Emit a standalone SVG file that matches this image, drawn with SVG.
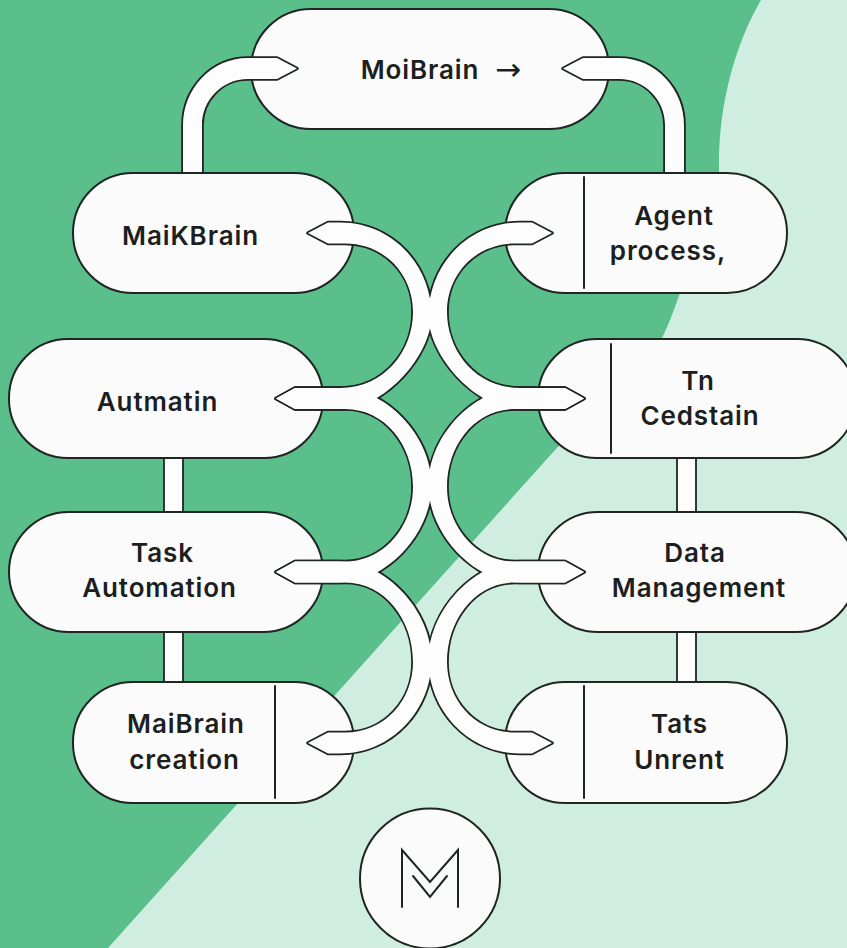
<svg xmlns="http://www.w3.org/2000/svg" width="847" height="948" viewBox="0 0 847 948">
<style>
.nd{fill:#fbfbfb;stroke:#1f2522;stroke-width:2}
.dv{stroke:#1f2522;stroke-width:2;fill:none;stroke-linecap:round}
text{font-family:"Inter","Liberation Sans",sans-serif;font-size:26px;font-weight:600;fill:#1c1f1e;text-anchor:middle;letter-spacing:.9px}
.o{fill:#fdfdfd;stroke:#1f2522;stroke-width:3.6;stroke-linejoin:round}
.w{fill:#fdfdfd;stroke:none}
.v{fill:#fdfdfd;stroke:#1f2522;stroke-width:1.8}
</style>
<defs>
<path id="c1" d="M308,233L328,222.5H340C392,222.5 431.5,265 431.5,315.5C431.5,355 385,409 340,409H295L276,398.5L295,388H340C385,388 413,350 413,312C413,275 385,243.5 345,243.5H328Z"/>
<path id="c2" d="M276,398.5L295,388H340C385,388 431.5,435 431.5,485C431.5,535 385,582.5 340,582.5H295L276,572L295,561.5H345C385,561.5 413,525 413,487C413,445 385,409 345,409H295Z"/>
<path id="c3" d="M276,572L295,561.5H340C385,561.5 431.5,610 431.5,660C431.5,710 392,753.5 340,753.5H328L308,743L328,732.5H345C385,732.5 413,700 413,662C413,620 385,582.5 345,582.5H295Z"/>
<path id="t1" d="M183,172V125C183,90 210,58 248,58H277L297,68.5L277,79H248C222,79 202,100 202,125V172Z"/>
<path id="t2" d="M684,172V125C684,90 657,58 619,58H583L563,68.5L583,79H619C645,79 665,100 665,125V172Z"/>
</defs>
<rect width="847" height="948" fill="#5abf8b"/>
<path d="M761,0 C735,45 718,105 719,170 C720,215 700,260 680,293 C674,310 668,326 662,338 L555,450 L108,948 H847 V0 Z" fill="#cfeee1"/>

<g id="links-behind">
<rect class="v" x="164" y="450" width="19" height="70"/>
<rect class="v" x="164" y="624" width="19" height="66"/>
<rect class="v" x="677" y="450" width="19" height="70"/>
<rect class="v" x="677" y="624" width="19" height="66"/>
</g>

<g id="node-top"><rect class="nd" x="251" y="9" width="358" height="120" rx="60"/><text x="420" y="79">MoiBrain</text><text x="508" y="80" style="font-family:'DejaVu Sans',sans-serif;font-weight:400;font-size:31px;letter-spacing:0">→</text></g>
<g id="node-maikbrain"><rect class="nd" x="73" y="173" width="281" height="120" rx="60"/><text x="190.5" y="245">MaiKBrain</text></g>
<g id="node-agent"><rect class="nd" x="505" y="173" width="282" height="120" rx="60"/><path class="dv" d="M584,177V288"/><text x="674" y="225">Agent</text><text x="668" y="260">process,</text></g>
<g id="node-automatin"><rect class="nd" x="9" y="339" width="314" height="119" rx="59"/><text x="157.5" y="411">Autmatin</text></g>
<g id="node-cedstain"><rect class="nd" x="538" y="339" width="318" height="119" rx="59"/><path class="dv" d="M611,344V453"/><text x="698" y="390">Tn</text><text x="700" y="425">Cedstain</text></g>
<g id="node-task"><rect class="nd" x="9" y="512" width="314" height="120" rx="60"/><text x="162.5" y="562">Task</text><text x="159.5" y="597">Automation</text></g>
<g id="node-data"><rect class="nd" x="538" y="512" width="318" height="120" rx="60"/><text x="695" y="562">Data</text><text x="699" y="597">Management</text></g>
<g id="node-creation"><rect class="nd" x="73" y="682" width="281" height="121" rx="60"/><path class="dv" d="M275,686V798"/><text x="186" y="733">MaiBrain</text><text x="184.5" y="769">creation</text></g>
<g id="node-tats"><rect class="nd" x="505" y="682" width="282" height="121" rx="60"/><path class="dv" d="M584,686V798"/><text x="679.5" y="733">Tats</text><text x="679.5" y="769">Unrent</text></g>
<g id="node-logo"><circle class="nd" cx="430" cy="878.5" r="70"/><path class="dv" d="M402,907V850L430,882L458,850V907M413,876L430,897L447,876"/></g>

<g id="connectors">
<g class="o">
<use href="#t1"/><use href="#t2"/>
<use href="#c1"/><use href="#c2"/><use href="#c3"/>
<use href="#c1" transform="translate(860,0) scale(-1,1)"/>
<use href="#c2" transform="translate(860,0) scale(-1,1)"/>
<use href="#c3" transform="translate(860,0) scale(-1,1)"/>
</g>
<g class="w">
<use href="#t1"/><use href="#t2"/>
<use href="#c1"/><use href="#c2"/><use href="#c3"/>
<use href="#c1" transform="translate(860,0) scale(-1,1)"/>
<use href="#c2" transform="translate(860,0) scale(-1,1)"/>
<use href="#c3" transform="translate(860,0) scale(-1,1)"/>
</g>
</g>
</svg>
